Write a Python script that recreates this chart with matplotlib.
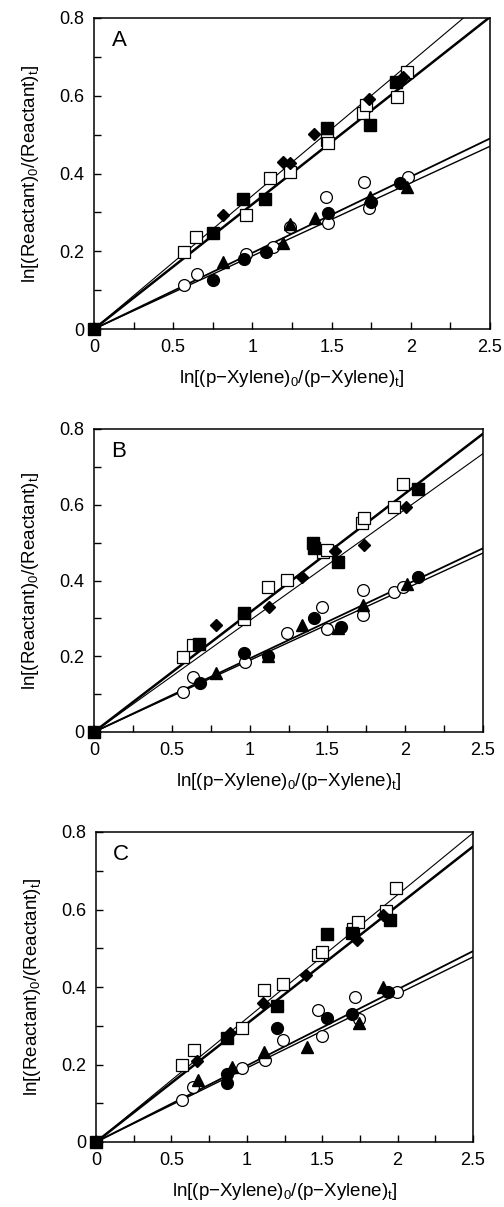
import matplotlib.pyplot as plt
import numpy as np

plt.rcParams['font.family'] = ['Liberation Sans', 'DejaVu Sans']
plt.rcParams['mathtext.fontset'] = 'custom'
plt.rcParams['mathtext.rm'] = 'Liberation Sans'
plt.rcParams['mathtext.it'] = 'Liberation Sans'

# ---- panel A ----
A_osq_x = [0.57, 0.644, 0.957, 1.113, 1.237, 1.469, 1.48, 1.70, 1.72, 1.915, 1.974]
A_osq_y = [0.199, 0.236, 0.293, 0.389, 0.405, 0.486, 0.478, 0.555, 0.575, 0.598, 0.66]
A_fsq_x = [0, 0.749, 0.943, 1.078, 1.473, 1.742, 1.906]
A_fsq_y = [0, 0.246, 0.334, 0.334, 0.516, 0.525, 0.636]
A_dia_x = [0.812, 1.191, 1.237, 1.389, 1.738, 1.953]
A_dia_y = [0.293, 0.429, 0.428, 0.501, 0.591, 0.649]
A_oci_x = [0.568, 0.648, 0.96, 1.13, 1.237, 1.465, 1.48, 1.705, 1.738, 1.984]
A_oci_y = [0.113, 0.141, 0.193, 0.21, 0.262, 0.339, 0.273, 0.379, 0.31, 0.392]
A_fci_x = [0.749, 0.947, 1.086, 1.479, 1.747, 1.93]
A_fci_y = [0.126, 0.179, 0.199, 0.298, 0.327, 0.376]
A_tri_x = [0.816, 1.195, 1.237, 1.395, 1.74, 1.974]
A_tri_y = [0.173, 0.22, 0.27, 0.285, 0.34, 0.366]
A_slopes = [0.321, 0.343, 0.196, 0.188]

# ---- panel B ----
B_osq_x = [0.57, 0.638, 0.964, 1.12, 1.242, 1.474, 1.50, 1.72, 1.735, 1.928, 1.988]
B_osq_y = [0.199, 0.23, 0.298, 0.384, 0.401, 0.476, 0.48, 0.551, 0.564, 0.593, 0.655]
B_fsq_x = [0, 0.677, 0.964, 1.405, 1.414, 1.57, 2.084]
B_fsq_y = [0, 0.232, 0.313, 0.50, 0.486, 0.45, 0.642]
B_dia_x = [0.784, 1.127, 1.335, 1.549, 1.735, 2.005]
B_dia_y = [0.283, 0.331, 0.408, 0.479, 0.494, 0.595]
B_oci_x = [0.574, 0.638, 0.97, 1.238, 1.467, 1.495, 1.727, 1.73, 1.928, 1.988]
B_oci_y = [0.106, 0.144, 0.186, 0.261, 0.331, 0.271, 0.375, 0.309, 0.37, 0.384]
B_fci_x = [0.681, 0.964, 1.12, 1.414, 1.585, 2.084]
B_fci_y = [0.13, 0.209, 0.20, 0.30, 0.278, 0.41]
B_tri_x = [0.784, 1.12, 1.335, 1.568, 1.73, 2.01]
B_tri_y = [0.157, 0.20, 0.283, 0.275, 0.335, 0.391]
B_slopes = [0.315, 0.294, 0.194, 0.189]

# ---- panel C ----
C_osq_x = [0.57, 0.651, 0.967, 1.115, 1.238, 1.474, 1.50, 1.706, 1.739, 1.922, 1.988]
C_osq_y = [0.199, 0.238, 0.294, 0.391, 0.408, 0.483, 0.49, 0.549, 0.569, 0.595, 0.656]
C_fsq_x = [0, 0.871, 1.198, 1.533, 1.695, 1.949]
C_fsq_y = [0, 0.268, 0.35, 0.537, 0.539, 0.573]
C_dia_x = [0.673, 0.889, 1.11, 1.392, 1.728, 1.904]
C_dia_y = [0.21, 0.281, 0.358, 0.43, 0.522, 0.586]
C_oci_x = [0.57, 0.646, 0.967, 1.121, 1.242, 1.474, 1.50, 1.717, 1.745, 1.993]
C_oci_y = [0.109, 0.143, 0.191, 0.212, 0.264, 0.341, 0.274, 0.375, 0.317, 0.386]
C_fci_x = [0.867, 0.867, 1.203, 1.533, 1.695, 1.937]
C_fci_y = [0.152, 0.175, 0.294, 0.32, 0.331, 0.386]
C_tri_x = [0.679, 0.90, 1.115, 1.401, 1.745, 1.904]
C_tri_y = [0.159, 0.193, 0.231, 0.245, 0.307, 0.40]
C_slopes = [0.305, 0.319, 0.197, 0.191]

W, H = 504, 1207
boxes = [(94, 490, 18, 329), (94, 483, 429, 732), (96, 473, 832, 1142)]
letters = ['A', 'B', 'C']
panels = [
    (A_osq_x, A_osq_y, A_fsq_x, A_fsq_y, A_dia_x, A_dia_y, A_oci_x, A_oci_y, A_fci_x, A_fci_y, A_tri_x, A_tri_y, A_slopes),
    (B_osq_x, B_osq_y, B_fsq_x, B_fsq_y, B_dia_x, B_dia_y, B_oci_x, B_oci_y, B_fci_x, B_fci_y, B_tri_x, B_tri_y, B_slopes),
    (C_osq_x, C_osq_y, C_fsq_x, C_fsq_y, C_dia_x, C_dia_y, C_oci_x, C_oci_y, C_fci_x, C_fci_y, C_tri_x, C_tri_y, C_slopes),
]

fig = plt.figure(figsize=(W / 100, H / 100), dpi=100)

for (l, r, t, b), let, p in zip(boxes, letters, panels):
    ax = fig.add_axes([l / W, 1 - b / H, (r - l) / W, (b - t) / H])
    osx, osy, fsx, fsy, dx, dy, ocx, ocy, fcx, fcy, tx, ty, slopes = p

    xx = np.array([0, 2.6])
    # upper pair: first thick, second thin; lower pair drawn as a double line
    ax.plot(xx, slopes[0] * xx, color='black', lw=1.8, zorder=2)
    ax.plot(xx, slopes[1] * xx, color='black', lw=0.8, zorder=2)
    ax.plot(xx, slopes[2] * xx, color='black', lw=1.3, zorder=2)
    ax.plot(xx, slopes[3] * xx, color='black', lw=1.0, zorder=2)

    ms = 8.5
    ax.plot(ocx, ocy, 'o', ms=ms, mfc='white', mec='black', mew=0.9, zorder=3, clip_on=False)
    ax.plot(fcx, fcy, 'o', ms=ms, mfc='black', mec='black', zorder=4, clip_on=False)
    ax.plot(tx, ty, '^', ms=ms, mfc='black', mec='black', zorder=4, clip_on=False)
    ax.plot(osx, osy, 's', ms=ms, mfc='white', mec='black', mew=0.9, zorder=3, clip_on=False)
    ax.plot(fsx, fsy, 's', ms=ms, mfc='black', mec='black', zorder=4, clip_on=False)
    ax.plot(dx, dy, 'D', ms=6.5, mfc='black', mec='black', zorder=4, clip_on=False)

    ax.set_xlim(0, 2.5)
    ax.set_ylim(0, 0.8)
    ax.set_xticks([0, 0.5, 1, 1.5, 2, 2.5])
    ax.set_xticklabels(['0', '0.5', '1', '1.5', '2', '2.5'])
    ax.set_xticks(np.arange(0.25, 2.5, 0.5), minor=True)
    ax.set_yticks([0, 0.2, 0.4, 0.6, 0.8])
    ax.set_yticklabels(['0', '0.2', '0.4', '0.6', '0.8'])
    ax.set_yticks([0.1, 0.3, 0.5, 0.7], minor=True)
    ax.tick_params(which='both', direction='in', length=5, width=1, labelsize=13,
                   top=False, right=False, pad=7)
    for s in ax.spines.values():
        s.set_linewidth(1.1)

    ax.set_xlabel(r'ln[(p$-$Xylene)$_0$/(p$-$Xylene)$_t$]', fontsize=13.5, labelpad=9)
    ax.set_ylabel(r'ln[(Reactant)$_0$/(Reactant)$_t$]', fontsize=13.5, labelpad=13)
    ax.text(0.045, 0.96, let, transform=ax.transAxes, fontsize=16, va='top', ha='left')

fig.savefig('out.png', dpi=100)
